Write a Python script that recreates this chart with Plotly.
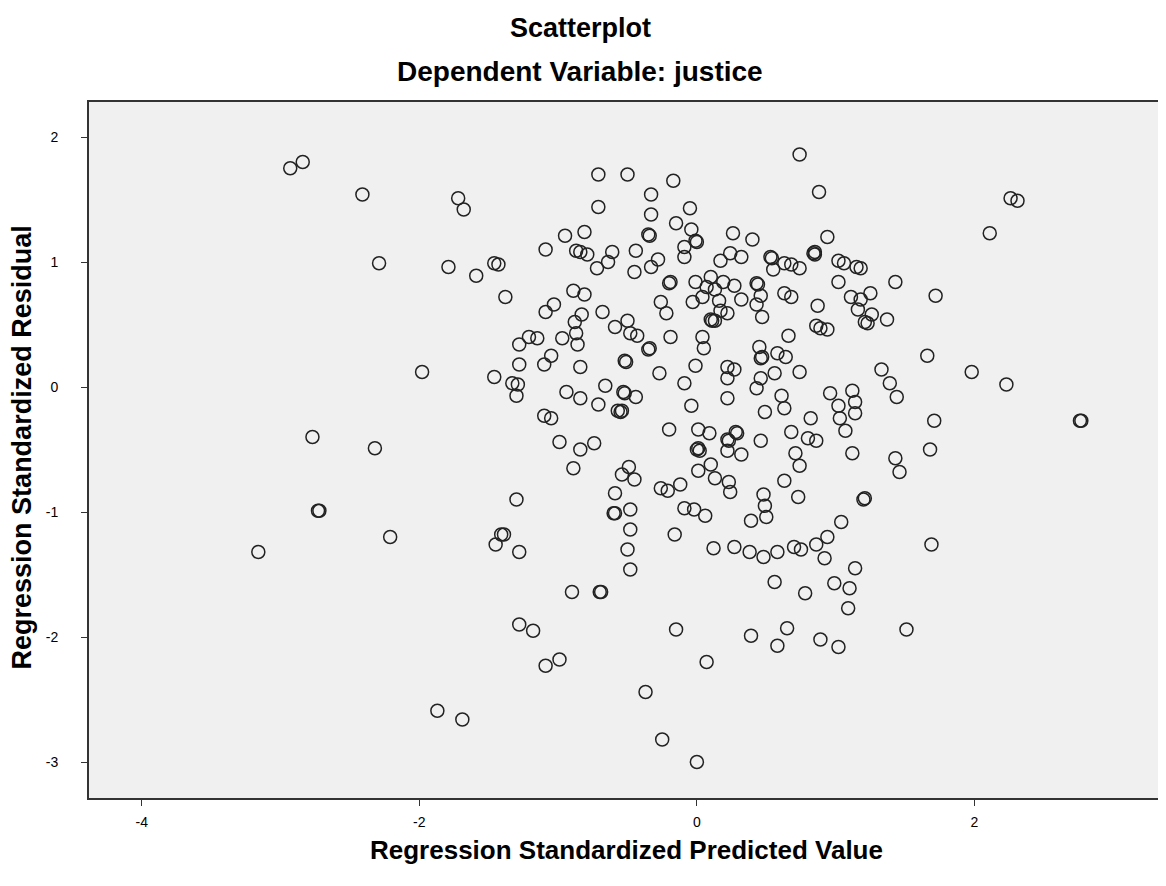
import plotly.graph_objects as go

# Regression standardized predicted value (x) and standardized residual (y)
pred = [
    -2.93, -2.84, -2.41, -1.72, -1.68, -0.71, -0.50, -0.71, -0.95, -0.81,
    -1.09, -0.87, -0.84, -0.79, -0.61, -0.64, -0.72, -2.29, -1.79, -1.59,
    -1.46, -1.43, -1.38, -0.89, -0.81, -1.03, -1.09, -0.83, -0.88, -0.68,
    -0.59, -0.50, -0.48, -1.21, -1.15, -0.97, -0.87, -0.43,
    0.74, 0.88, -0.17, -0.33, -0.05, -0.33, -0.15, -0.04, -0.35, -0.34,
    -0.01, 0.00, -0.09, -0.09, -0.44, -0.28, -0.33, -0.45, 0.26, 0.40,
    0.94, 0.24, 0.32, 0.17, 0.53, 0.54, 0.55, 0.63, 0.68, 0.74,
    0.84, 0.85, 0.85, 1.02, 1.06, 1.15, 1.18, 1.02, 1.43, -0.20,
    -0.19, -0.01, 0.10, 0.07, 0.13, 0.19, 0.27, 0.43, 0.44, 0.46,
    0.43, 0.47, 0.32, 0.16, 0.04, -0.03, -0.26, -0.22, 0.17, 0.22,
    0.10, 0.11, 0.13, 0.63, 0.68, 0.87, 1.11, 1.18, 1.25, 1.16,
    1.26, 1.21, 1.23, 1.37, 0.86, 0.89, 0.94, -0.19, 0.04, 0.66,
    2.26, 2.31, 2.11, 1.72,
    -2.77, -2.73, -2.72, -3.16,
    -1.98, -2.32, -2.21, -1.46, -1.33, -1.29, -1.30, -1.28, -1.28, -1.10,
    -1.05, -0.86, -0.84, -0.52, -0.51, -0.94, -0.84, -0.71, -0.66, -0.53,
    -0.52, -0.57, -0.55, -0.54, -1.10, -1.05, -0.99, -0.84, -0.74, -0.89,
    -1.30, -1.41, -1.39, -1.45, -1.28, -0.54, -0.49, -0.59, -0.60, -0.59,
    -0.48, -0.48, -0.50, -0.48,
    0.05, -0.35, -0.34, -0.27, -0.09, -0.01, -0.44, -0.04, 0.22, 0.27,
    0.22, 0.22, 0.45, 0.46, 0.47, 0.58, 0.64, 0.56, 0.46, 0.43,
    0.74, 0.61, 0.63, 0.49, 0.96, 1.02, 1.03, 1.12, 1.14, 1.14,
    1.07, 1.33, 1.39, 1.44, 0.82, -0.20, 0.01, 0.09, 0.22, 0.23,
    0.28, 0.29, 0.22, 0.32, 0.00, 0.02, 0.01, 0.46, 0.68, 0.80,
    0.86, 0.71, 0.74, 1.12, 1.43, 1.46, -0.45, 0.10, 0.01, 0.13,
    0.23, 0.24, -0.26, -0.21, -0.12, 0.63, 0.73, 0.48, 0.49, 0.50,
    0.39, -0.09, -0.02, 0.06, 1.20, 1.21, 1.04, -0.16, 0.12, 0.27,
    0.38, 0.48, 0.58, 0.70, 0.75, 0.86, 0.94, 0.92, 1.14,
    1.66, 1.98, 2.23, 1.71, 2.76, 2.77, 1.68, 1.69,
    -0.90, -0.70, -0.69, -1.28, -1.18, -1.09, -0.99, -1.87, -1.69,
    0.56, 0.78, 0.99, 1.10, 1.09, -0.15, 0.39, 0.65, 0.58, 0.89,
    1.02, 1.51, 0.07, -0.37, -0.25, 0.00,
]

resid = [
    1.75, 1.80, 1.54, 1.51, 1.42, 1.70, 1.70, 1.44, 1.21, 1.24,
    1.10, 1.09, 1.08, 1.06, 1.08, 1.00, 0.95, 0.99, 0.96, 0.89,
    0.99, 0.98, 0.72, 0.77, 0.74, 0.66, 0.60, 0.58, 0.52, 0.60,
    0.48, 0.53, 0.43, 0.40, 0.39, 0.39, 0.43, 0.41,
    1.86, 1.56, 1.65, 1.54, 1.43, 1.38, 1.31, 1.26, 1.22, 1.21,
    1.17, 1.16, 1.12, 1.04, 1.09, 1.02, 0.96, 0.92, 1.23, 1.18,
    1.20, 1.07, 1.04, 1.01, 1.04, 1.03, 0.94, 0.99, 0.98, 0.95,
    1.07, 1.08, 1.06, 1.01, 0.99, 0.96, 0.95, 0.84, 0.84, 0.83,
    0.84, 0.84, 0.88, 0.80, 0.78, 0.84, 0.81, 0.83, 0.82, 0.73,
    0.66, 0.56, 0.70, 0.69, 0.72, 0.68, 0.68, 0.59, 0.61, 0.59,
    0.54, 0.53, 0.53, 0.75, 0.72, 0.65, 0.72, 0.70, 0.75, 0.62,
    0.58, 0.52, 0.51, 0.54, 0.49, 0.47, 0.46, 0.40, 0.40, 0.41,
    1.51, 1.49, 1.23, 0.73,
    -0.40, -0.99, -0.99, -1.32,
    0.12, -0.49, -1.20, 0.08, 0.03, 0.02, -0.07, 0.34, 0.18, 0.18,
    0.25, 0.34, 0.16, 0.21, 0.20, -0.04, -0.09, -0.14, 0.01, -0.04,
    -0.05, -0.19, -0.20, -0.19, -0.23, -0.25, -0.44, -0.50, -0.45, -0.65,
    -0.90, -1.18, -1.18, -1.26, -1.32, -0.70, -0.64, -0.85, -1.01, -1.01,
    -0.98, -1.14, -1.30, -1.46,
    0.31, 0.30, 0.31, 0.11, 0.03, 0.17, -0.08, -0.15, 0.16, 0.14,
    0.07, -0.09, 0.32, 0.23, 0.24, 0.27, 0.24, 0.11, 0.07, -0.01,
    0.12, -0.07, -0.17, -0.20, -0.05, -0.15, -0.25, -0.03, -0.12, -0.21,
    -0.35, 0.14, 0.03, -0.08, -0.25, -0.34, -0.34, -0.37, -0.42, -0.43,
    -0.36, -0.37, -0.51, -0.54, -0.50, -0.51, -0.49, -0.43, -0.36, -0.41,
    -0.43, -0.53, -0.63, -0.53, -0.57, -0.68, -0.74, -0.62, -0.67, -0.73,
    -0.76, -0.84, -0.81, -0.83, -0.78, -0.75, -0.88, -0.86, -0.95, -1.04,
    -1.07, -0.97, -0.98, -1.03, -0.90, -0.89, -1.08, -1.18, -1.29, -1.28,
    -1.32, -1.36, -1.32, -1.28, -1.30, -1.26, -1.20, -1.37, -1.45,
    0.25, 0.12, 0.02, -0.27, -0.27, -0.27, -0.50, -1.26,
    -1.64, -1.64, -1.64, -1.90, -1.95, -2.23, -2.18, -2.59, -2.66,
    -1.56, -1.65, -1.57, -1.61, -1.77, -1.94, -1.99, -1.93, -2.07, -2.02,
    -2.08, -1.94, -2.20, -2.44, -2.82, -3.00,
]

x_ticks = [-4, -2, 0, 2]
x_ticklabels = ["-4", "-2", "0", "2"]
y_ticks = [-3, -2, -1, 0, 1, 2]
y_ticklabels = ["-3", "-2", "-1", "0", "1", "2"]

FONT = "Liberation Sans, Arial, sans-serif"

fig = go.Figure()
fig.add_trace(go.Scatter(
    x=pred, y=resid, mode="markers",
    marker=dict(symbol="circle-open", size=13, color="#222222",
                line=dict(width=1.5, color="#222222")),
    hoverinfo="x+y", showlegend=False,
))

fig.update_layout(
    width=1158, height=878,
    margin=dict(l=81, r=0, t=94, b=88),
    paper_bgcolor="white", plot_bgcolor="#F0F0F0",
    font=dict(family=FONT, color="black", size=14),
    xaxis=dict(range=[-4.38, 3.38], tickvals=x_ticks, ticktext=x_ticklabels,
               ticks="outside", ticklen=6, tickwidth=1, tickcolor="#333",
               showgrid=False, zeroline=False, showline=True, linecolor="#333",
               linewidth=2, mirror=True, ticklabelstandoff=4,
               tickfont=dict(size=14, family=FONT)),
    yaxis=dict(range=[-3.288, 2.28], tickvals=y_ticks, ticktext=y_ticklabels,
               ticks="outside", ticklen=6, tickwidth=1, tickcolor="#333",
               showgrid=False, zeroline=False, showline=True, linecolor="#333",
               linewidth=2, mirror=False, ticklabelstandoff=20,
               tickfont=dict(size=14, family=FONT)),
    annotations=[
        dict(text="<b>Scatterplot</b>", x=0.456, y=1.106, xref="paper", yref="paper",
             showarrow=False, font=dict(size=27, family=FONT), xanchor="center", yanchor="middle"),
        dict(text="<b>Dependent Variable: justice</b>", x=0.456, y=1.0445, xref="paper", yref="paper",
             showarrow=False, font=dict(size=28, family=FONT), xanchor="center", yanchor="middle"),
        dict(text="<b>Regression Standardized Predicted Value</b>", x=0.4995, y=-0.0747,
             xref="paper", yref="paper", showarrow=False, font=dict(size=26, family=FONT),
             xanchor="center", yanchor="middle"),
        dict(text="<b>Regression Standardized Residual</b>", x=-0.062, y=0.504,
             xref="paper", yref="paper", showarrow=False, font=dict(size=27, family=FONT),
             xanchor="center", yanchor="middle", textangle=-90),
    ],
)

fig.write_html("out.html")
